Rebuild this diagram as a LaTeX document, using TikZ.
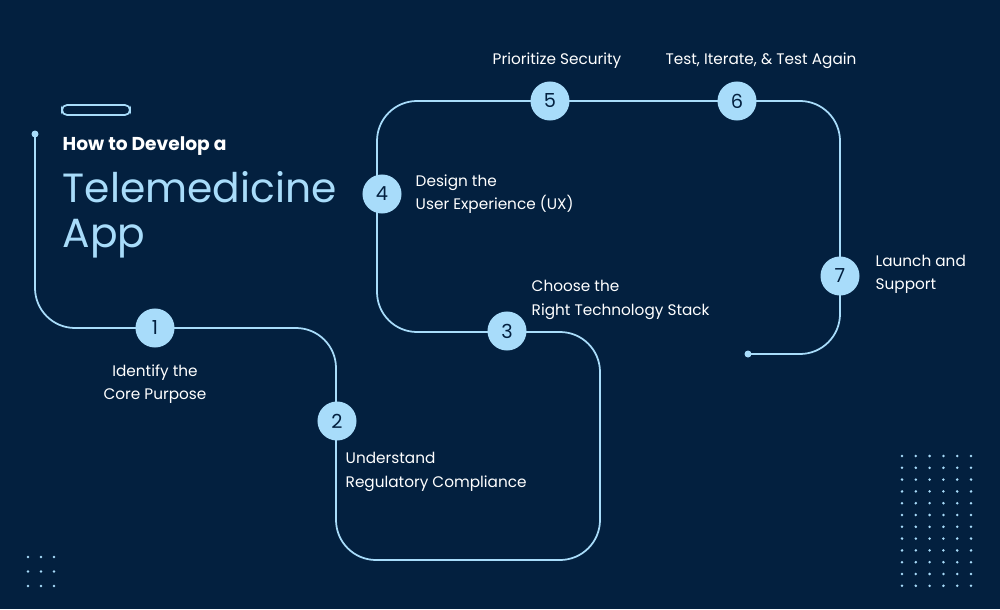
\documentclass[tikz,border=0pt]{standalone}
\usepackage{fontspec}
\setmainfont{Poppins}
\definecolor{navy}{HTML}{03203F}
\definecolor{sky}{HTML}{A8DCFA}
\begin{document}
\begin{tikzpicture}[x=0.01cm,y=-0.01cm,
    badge/.style={circle,fill=sky,minimum size=0.39cm,inner sep=0pt,text=navy,font=\fontsize{5.5}{6}\selectfont},
    lbl/.style={text=white,font=\fontsize{4.35}{6.6}\selectfont,inner sep=0pt,align=left},
    route/.style={draw=sky,line width=0.5pt,rounded corners=0.4cm}]
    
    % Background
    \fill[navy] (0,0) rectangle (1000,609);
    \useasboundingbox (0,0) rectangle (1000,609);
    
    % Path
    \coordinate (start) at (35,134);
    \coordinate (stop) at (748,354);
    \draw[route] (start) -- (35,328) -- (336,328) -- (336,560) -- (600,560) -- (600,332)
        -- (377,332) -- (377,101) -- (840,101) -- (840,354) -- (stop);
    \fill[sky] (start) circle (3.5);
    \fill[sky] (stop) circle (3.5);
    
    % Steps
    \node[badge] (s1) at (155,328) {1};
    \node[badge] (s2) at (337,421) {2};
    \node[badge] (s3) at (507,331) {3};
    \node[badge] (s4) at (382,194) {4};
    \node[badge] (s5) at (550,101) {5};
    \node[badge] (s6) at (737,101) {6};
    \node[badge] (s7) at (840,276) {7};
    
    % Labels
    \node[lbl,align=center] (t1) at (155,384) {Identify the\\Core Purpose};
    \node[lbl,anchor=west] (t2) at (345,472) {Understand\\Regulatory Compliance};
    \node[lbl,anchor=west] (t3) at (531,300) {Choose the\\Right Technology Stack};
    \node[lbl,anchor=west] (t4) at (415,194) {Design the\\User Experience (UX)};
    \node[lbl] (t5) at (557,61) {Prioritize Security};
    \node[lbl] (t6) at (761,61) {Test, Iterate, \& Test Again};
    \node[lbl,anchor=west] (t7) at (875,274) {Launch and\\Support};
    
    % Title
    \draw[sky,line width=0.5pt,rounded corners=0.05cm] (62,105) rectangle (130,115);
    \node[anchor=west,inner sep=0pt,text=white,font=\fontsize{5.3}{6}\selectfont\bfseries] (how) at (62,146) {How to Develop a};
    \node[anchor=west,inner sep=0pt,text=sky,font=\fontsize{11.6}{12.8}\selectfont,align=left] (app) at (62,215) {Telemedicine\\App};
    
    % Dots
    \foreach \i in {0,1,2}
      \foreach \j in {0,1,2}
        \fill[sky] (28+13*\i,557+14.5*\j) circle (1.4);
    \foreach \i in {0,...,5}
      \foreach \j in {0,...,11}
        \fill[sky] (902+13.8*\i,456+11.8*\j) circle (1.4);
  \end{tikzpicture}
\end{document}
